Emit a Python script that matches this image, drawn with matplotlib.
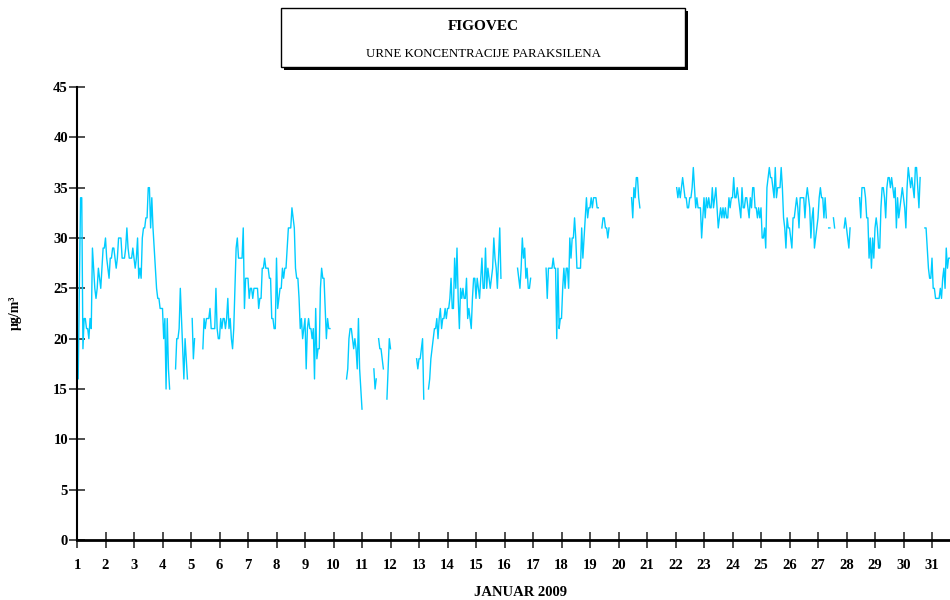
import numpy as np
import matplotlib
matplotlib.use("Agg")
import matplotlib.pyplot as plt
from matplotlib.patches import Rectangle

N = None
# hourly concentrations (µg/m3), one list per day of January 2009
day_01 = [19, 16, 25, 34, 34, 19, 22, 22, 21, 21, 20, 22, 21, 29, 27, 25, 24, 25, 27, 26, 25, 27, 29, 29]
day_02 = [30, 28, 27, 26, 28, 28, 29, 29, 28, 27, 28, 30, 30, 30, 28, 28, 28, 29, 31, 29, 28, 28, 28, 29]
day_03 = [28, 27, 28, 30, 26, 27, 26, 30, 31, 31, 32, 32, 35, 35, 31, 34, 31, 29, 27, 25, 24, 24, 23, 23]
day_04 = [23, 20, 22, 15, 22, 17, 15, N, N, N, N, 17, 20, 20, 21, 25, 22, 19, 16, 20, 18, 16, N, N]
day_05 = [N, 22, 18, 20, N, N, N, N, N, N, 19, 22, 21, 22, 22, 22, 23, 21, 21, 21, 21, 25, 21, 20]
day_06 = [20, 22, 21, 22, 22, 21, 22, 24, 21, 22, 20, 19, 21, 25, 29, 30, 28, 28, 28, 28, 31, 23, 26, 26]
day_07 = [26, 24, 25, 25, 24, 25, 25, 25, 25, 23, 24, 24, 27, 27, 28, 27, 27, 27, 26, 26, 22, 22, 21, 21]
day_08 = [28, 23, 24, 25, 25, 27, 26, 27, 27, 29, 31, 31, 31, 33, 32, 31, 27, 26, 26, 24, 21, 22, 20, 21]
day_09 = [22, 17, 21, 22, 21, 21, 20, 21, 16, 23, 18, 19, 19, 25, 27, 26, 26, 23, 20, 22, 21, 21, N, N]
day_10 = [N, N, N, N, N, N, N, N, N, N, N, 16, 17, 20, 21, 21, 20, 19, 20, 19, 17, 22, 17, 15]
day_11 = [13, N, N, N, N, N, N, N, N, N, 17, 15, 16, N, 20, 19, 19, 18, 17, N, N, 14, 17, 20]
day_12 = [19, N, N, N, N, N, N, N, N, N, N, N, N, N, N, N, N, N, N, N, N, N, 18, 17]
day_13 = [18, 18, 19, 20, 14, N, N, N, 15, 16, 18, 19, 20, 21, 21, 22, 20, 22, 23, 21, 22, 22, 23, 22]
day_14 = [23, 23, 24, 26, 23, 23, 28, 25, 29, 24, 21, 25, 24, 25, 24, 24, 26, 22, 23, 22, 21, 24, 26, 26]
day_15 = [24, 26, 25, 24, 26, 28, 25, 25, 29, 25, 27, 26, 25, 26, 27, 30, 28, 27, 25, 28, 31, 26, N, N]
day_16 = [N, N, N, N, N, N, N, N, N, N, N, 27, 26, 25, 27, 30, 28, 29, 26, 27, 25, 25, 26, N]
day_17 = [N, N, N, N, N, N, N, N, N, N, N, 27, 24, 27, 27, 27, 27, 28, 27, 27, 20, 27, 21, 22]
day_18 = [22, 25, 27, 25, 27, 27, 25, 30, 28, 30, 30, 32, 30, 27, 27, 27, 27, 31, 28, 30, 32, 34, 32, 33]
day_19 = [33, 34, 33, 34, 34, 34, 33, 33, N, N, 31, 32, 32, 31, 31, 30, 31, N, N, N, N, N, N, N]
day_20 = [N, N, N, N, N, N, N, N, N, N, N, 34, 32, 35, 34, 36, 36, 34, 33, N, N, N, N, N]
day_21 = [N] * 24
day_22 = [N, 35, 34, 35, 34, 35, 36, 35, 34, 34, 33, 33, 34, 34, 35, 37, 35, 33, 34, 33, 33, 33, 30, 32]
day_23 = [34, 32, 34, 33, 34, 33, 33, 35, 33, 34, 35, 33, 31, 32, 33, 32, 33, 32, 33, 32, 32, 34, 33, 34]
day_24 = [34, 36, 34, 34, 35, 34, 33, 32, 35, 33, 33, 34, 34, 33, 32, 34, 33, 35, 35, 33, 33, 32, 33, 32]
day_25 = [33, 30, 30, 31, 29, 35, 36, 37, 36, 36, 35, 34, 37, 34, 35, 35, 35, 37, 35, 32, 31, 29, 32, 31]
day_26 = [31, 30, 29, 32, 32, 33, 34, 33, 31, 34, 34, 34, 34, 32, 34, 35, 34, 33, 30, 32, 33, 29, 30, 31]
day_27 = [32, 34, 35, 34, 34, 32, 34, 32, N, 31, 31, N, N, 32, 31, N, N, N, N, N, N, N, 31, 32]
day_28 = [31, 30, 29, 31, N, N, N, N, N, N, N, 34, 32, 35, 35, 35, 34, 32, 32, 28, 30, 27, 30, 28]
day_29 = [31, 32, 31, 29, 29, 33, 35, 35, 34, 32, 35, 36, 36, 35, 36, 35, 34, 35, 31, 34, 32, 33, 34, 35]
day_30 = [34, 33, 31, 35, 37, 36, 35, 36, 35, 34, 37, 37, 35, 33, 36, N, N, N, 31, 31, 29, 27, 26, 26]
day_31 = [28, 25, 25, 24, 24, 24, 24, 25, 24, 26, 27, 25, 29, 27, 28, 28, N, N, N, N, N, N, N, N]

x_tick_labels = [str(d) for d in range(1, 32)]
y_tick_values = [0, 5, 10, 15, 20, 25, 30, 35, 40, 45]
title_main = "FIGOVEC"
title_sub = "URNE KONCENTRACIJE PARAKSILENA"
x_label = "JANUAR 2009"
y_label = "μg/m³"

days = [day_01, day_02, day_03, day_04, day_05, day_06, day_07, day_08, day_09, day_10,
        day_11, day_12, day_13, day_14, day_15, day_16, day_17, day_18, day_19, day_20,
        day_21, day_22, day_23, day_24, day_25, day_26, day_27, day_28, day_29, day_30, day_31]
values = np.array([np.nan if v is None else v for d in days for v in d], dtype=float)
t = 1 + np.arange(len(values)) / 24.0

plt.rcParams['font.family'] = ['Liberation Serif', 'DejaVu Serif']

W, H = 950, 600
fig = plt.figure(figsize=(9.5, 6), dpi=100)
ax = fig.add_axes([77 / W, 60 / H, (960.5 - 77) / W, (540 - 87) / H])
ax.plot(t, values, color='#00CCFF', lw=1.0)
ax.set_xlim(1, 32)
ax.set_ylim(0, 45)
ax.set_xticks(range(1, 32))
ax.set_xticklabels(x_tick_labels)
ax.set_yticks(y_tick_values)
for s in ('top', 'right'):
    ax.spines[s].set_visible(False)
ax.spines['left'].set_linewidth(1.5)
ax.spines['bottom'].set_linewidth(2.0)
ax.tick_params(axis='both', direction='inout', length=11, width=1.2, color='#303030',
               labelsize=10.5)
ax.tick_params(axis='y', pad=1)
ax.tick_params(axis='x', pad=8)
for lab in ax.get_xticklabels() + ax.get_yticklabels():
    lab.set_fontweight('bold')

# title box with shadow
shadow = Rectangle((283.5 / W, 1 - 69.5 / H), 404 / W, 59 / H, transform=fig.transFigure,
                   facecolor='black', edgecolor='black', lw=0)
box = Rectangle((281 / W, 1 - 67 / H), 404 / W, 59 / H, transform=fig.transFigure,
                facecolor='white', edgecolor='black', lw=1)
fig.add_artist(shadow)
fig.add_artist(box)
fig.text(483 / W, 1 - 27 / H, title_main, ha='center', va='center', fontsize=11, fontweight='bold')
fig.text(483 / W, 1 - 54 / H, title_sub, ha='center', va='center', fontsize=9.3)

fig.text(15 / W, 1 - 313 / H, y_label, rotation=90, ha='center', va='center',
         fontsize=10, fontweight='bold')
fig.text(520 / W, 1 - 592 / H, x_label, ha='center', va='center', fontsize=10.5, fontweight='bold')

fig.savefig('out.png', dpi=100)
